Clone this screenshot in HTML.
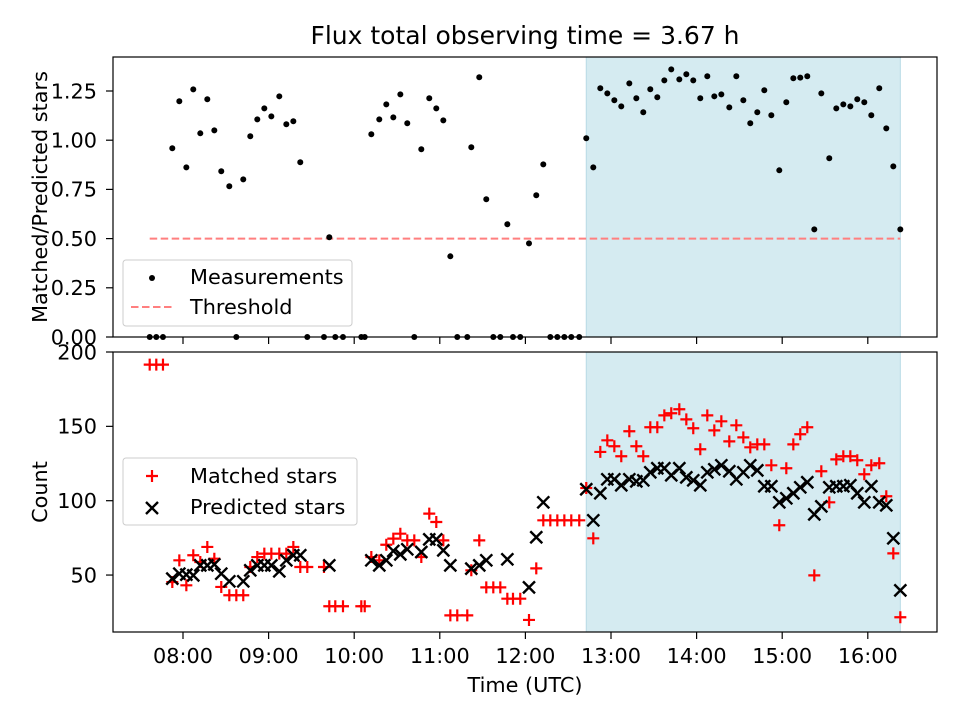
<!DOCTYPE html>
<html><head><meta charset="utf-8"><style>
html,body{margin:0;padding:0;background:#fff;}
svg{display:block;font-family:"DejaVu Sans","Liberation Sans",sans-serif;}
</style></head><body>
<svg id="chart" width="960" height="720" viewBox="0 0 960 720" xmlns="http://www.w3.org/2000/svg">
<text x="525" y="44" font-size="25" text-anchor="middle">Flux total observing time = 3.67 h</text>
<text transform="translate(47,197) rotate(-90)" font-size="20.8" text-anchor="middle">Matched/Predicted stars</text>
<text transform="translate(47,492) rotate(-90)" font-size="20.8" text-anchor="middle">Count</text>
<text x="525" y="692" font-size="20.8" text-anchor="middle">Time (UTC)</text>
<g id="topPanel"></g><g id="botPanel"></g>
</svg>
<script>
const times=[7.611,7.688,7.766,7.875,7.957,8.039,8.120,8.202,8.284,8.366,8.447,8.541,8.623,8.704,8.786,8.868,8.950,9.032,9.125,9.207,9.289,9.370,9.452,9.647,9.709,9.779,9.869,10.083,10.123,10.200,10.293,10.375,10.457,10.539,10.620,10.702,10.784,10.877,10.959,11.041,11.123,11.204,11.321,11.368,11.461,11.543,11.625,11.707,11.789,11.855,11.940,12.042,12.127,12.209,12.291,12.373,12.455,12.536,12.629,12.711,12.793,12.875,12.957,13.039,13.120,13.214,13.296,13.377,13.459,13.541,13.623,13.704,13.798,13.880,13.961,14.043,14.125,14.207,14.289,14.382,14.464,14.546,14.627,14.709,14.791,14.873,14.966,15.048,15.130,15.211,15.293,15.375,15.457,15.550,15.632,15.714,15.796,15.877,15.959,16.041,16.134,16.216,16.298,16.380];
const ratio=[0,0,0,0.959,1.198,0.862,1.258,1.035,1.208,1.050,0.842,0.766,0,0.801,1.020,1.106,1.162,1.121,1.223,1.081,1.096,0.888,0,0,0.507,0,0,0,0,1.030,1.106,1.182,1.116,1.233,1.086,0,0.954,1.213,1.162,1.101,0.410,0,0,0.964,1.320,0.700,0,0,0.573,0,0,0.476,0.720,0.877,0,0,0,0,0,1.010,0.862,1.264,1.238,1.203,1.172,1.289,1.213,1.142,1.259,1.218,1.304,1.360,1.309,1.335,1.304,1.213,1.325,1.223,1.233,1.167,1.325,1.203,1.086,1.142,1.254,1.127,0.847,1.193,1.315,1.318,1.325,0.547,1.238,0.908,1.162,1.182,1.172,1.208,1.193,1.127,1.264,1.060,0.867,0.547];
const matched=[191.5,191.5,191.5,45.3,59.9,43.1,63.3,58.8,68.9,61,42,36.4,36.4,36.4,55.4,62.1,64.4,64.4,64.4,64.4,68.9,55.4,55.4,55.4,29,29,29,29,29,62.1,59.9,70.4,74.5,77.8,73.3,73.3,62.1,91.3,85.7,73.3,22.9,22.9,22.9,53.2,73.3,41.7,41.7,41.7,34.1,34.1,34.1,19.8,54.5,86.8,86.8,86.8,86.8,86.8,86.8,108.5,74.7,132.8,140.6,136.6,129.9,146.7,136.6,129.9,149.4,149.4,157.4,158.8,161.5,154.7,148.7,134.6,157.4,147.3,153.4,139.9,150.7,142.6,135.9,137.9,137.9,123.8,83.5,121.8,137.9,144.7,149.4,49.8,119.8,98.9,127.8,129.9,129.9,127.2,117.8,123.8,125.2,103,64.6,21.6];
const predicted=[null,null,null,47.6,50.9,50.3,49.8,56.5,56.5,57.2,50.9,45.8,null,45.8,53.2,56.5,56.5,56.5,52.5,59.9,63.3,63.3,null,null,56.5,null,null,null,null,59.9,56.5,59.9,66.2,63.9,67.3,null,65.5,74.0,74.0,66.6,56.5,null,null,54.3,56.5,59.9,null,null,60.6,null,null,41.7,75.4,98.9,null,null,null,null,null,107.7,86.8,105,114.4,114.4,110.4,114.4,113,113.7,119.1,121.8,121.8,117.1,121.8,115.7,113.7,110.4,119.1,121.1,123.8,119.8,114.4,119.1,123.8,120.4,109.7,109.7,98.9,101.6,105,109,112.4,90.8,96.2,109,109.7,109.7,110.4,105,98.9,109.7,98.9,96.9,74.7,39.7];
const threshold=[0.5];
const topTicks=[0,0.25,0.5,0.75,1.0,1.25];
const topTickLabels=["0.00","0.25","0.50","0.75","1.00","1.25"];
const botTicks=[50,100,150,200];
const xTicks=[8,9,10,11,12,13,14,15,16];
const xTickLabels=["08:00","09:00","10:00","11:00","12:00","13:00","14:00","15:00","16:00"];
const shadeRange=[12.711,16.380];

const NS="http://www.w3.org/2000/svg";
const L=113,R=937;
const xS=h=>183+(h-8)*85.6;
const yTop=v=>337-v*196.8;
const yBot=v=>352+(200-v)*1.487;
function el(p,tag,a){const e=document.createElementNS(NS,tag);for(const k in a)e.setAttribute(k,a[k]);p.appendChild(e);return e;}

function panel(g,y0,y1,yf,ticks,labels,showX){
  const sh=el(g,'rect',{x:xS(shadeRange[0]),y:y0,width:xS(shadeRange[1])-xS(shadeRange[0]),height:y1-y0,fill:'#d5ebf1',stroke:'#b8dbe6','stroke-width':1});
  
  
  ticks.forEach((t,i)=>{
    const y=yf(t);
    el(g,'line',{x1:L-7,x2:L,y1:y,y2:y,stroke:'#000','stroke-width':1.2});
    const tx=el(g,'text',{x:97,y:y+7.3,'font-size':20.8,'text-anchor':'end'});
    tx.textContent=labels[i];
    
    
  });
  xTicks.forEach((t,i)=>{
    const x=xS(t);
    el(g,'line',{x1:x,x2:x,y1:y1,y2:y1+7,stroke:'#000','stroke-width':1.2});
    if(showX){const tx=el(g,'text',{x:x,y:y1+31,'font-size':20.8,'text-anchor':'middle'});tx.textContent=xTickLabels[i];
      
      }
  });
}
const topG=document.getElementById('topPanel'),botG=document.getElementById('botPanel');




panel(topG,57,337,yTop,topTicks,topTickLabels,false);
panel(botG,352,632,yBot,botTicks,botTicks.map(String),true);

const th=el(topG,'line',{x1:xS(times[0]),x2:xS(times[times.length-1]),y1:yTop(threshold[0]),y2:yTop(threshold[0]),stroke:'#ff7f7f','stroke-width':2,'stroke-dasharray':'7.5,3.5'});


times.forEach((t,i)=>{
  const c=el(topG,'circle',{cx:xS(t),cy:yTop(ratio[i]),r:3,fill:'#000'});
  
  
});
times.forEach((t,i)=>{
  if(matched[i]==null)return;
  const x=xS(t),y=yBot(matched[i]);
  const p=el(botG,'path',{d:`M${x-6} ${y}H${x+6}M${x} ${y-6}V${y+6}`,stroke:'#f00','stroke-width':2.2,fill:'none'});
  
  
});
times.forEach((t,i)=>{
  if(predicted[i]==null)return;
  const x=xS(t),y=yBot(predicted[i]);
  const p=el(botG,'path',{d:`M${x-6} ${y-6}L${x+6} ${y+6}M${x-6} ${y+6}L${x+6} ${y-6}`,stroke:'#000','stroke-width':2.4,fill:'none'});
  
  
});
el(topG,'rect',{x:L,y:57,width:R-L,height:280,fill:'none',stroke:'#000','stroke-width':1.2});
el(botG,'rect',{x:L,y:352,width:R-L,height:280,fill:'none',stroke:'#000','stroke-width':1.2});

function legend(g,x,y,w,h,name){const r=el(g,'rect',{x:x,y:y,width:w,height:h,rx:3,fill:'#fff','fill-opacity':0.8,stroke:'#ccc','stroke-width':1});
  
  }
legend(topG,123,260,229,66,'top-legend');
el(topG,'circle',{cx:152,cy:278,r:3,fill:'#000'});
let t1=el(topG,'text',{x:190,y:284,'font-size':20.8});t1.textContent='Measurements';


el(topG,'line',{x1:131,x2:173,y1:307,y2:307,stroke:'#ff7f7f','stroke-width':2,'stroke-dasharray':'7.5,3.5'});
let t2=el(topG,'text',{x:190,y:314,'font-size':20.8});t2.textContent='Threshold';



legend(botG,123,458,234,67,'bottom-legend');
el(botG,'path',{d:'M146 476H158M152 470V482',stroke:'#f00','stroke-width':2.2,fill:'none'});
let t3=el(botG,'text',{x:190,y:483,'font-size':20.8});t3.textContent='Matched stars';


el(botG,'path',{d:'M146 502L158 514M146 514L158 502',stroke:'#000','stroke-width':2.4,fill:'none'});
let t4=el(botG,'text',{x:190,y:514,'font-size':20.8});t4.textContent='Predicted stars';


</script>
</body></html>
